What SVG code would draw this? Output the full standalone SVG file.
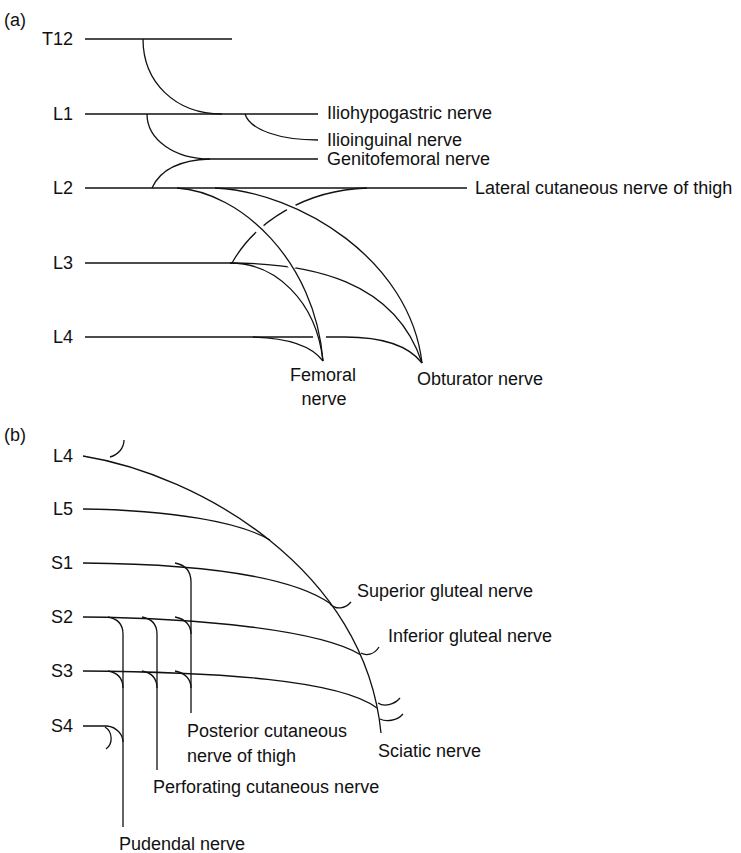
<svg xmlns="http://www.w3.org/2000/svg" width="741" height="853" viewBox="0 0 741 853">
<style>
text{font-family:"Liberation Sans",Arial,sans-serif;font-size:18px;fill:#111}
.e{text-anchor:end}
.m{text-anchor:middle}
path,line{fill:none;stroke:#111;stroke-width:1.3}
.gap{fill:#fff;stroke:none}
</style>
<rect width="741" height="853" fill="#fff"/>
<g id="part-a-label"><text x="4" y="26">(a)</text></g>
<g id="T12"><text class="e" x="73" y="45">T12</text></g>
<g id="L1a"><text class="e" x="73" y="120">L1</text></g>
<g id="L2a"><text class="e" x="73" y="194">L2</text></g>
<g id="L3a"><text class="e" x="73" y="269">L3</text></g>
<g id="L4a"><text class="e" x="73" y="343">L4</text></g>
<g id="iliohypogastric"><text x="327" y="119">Iliohypogastric nerve</text></g>
<g id="ilioinguinal"><text x="327" y="146">Ilioinguinal nerve</text></g>
<g id="genitofemoral"><text x="327" y="165">Genitofemoral nerve</text></g>
<g id="lateral-cutaneous"><text x="475" y="194">Lateral cutaneous nerve of thigh</text></g>
<g id="femoral"><text class="m" x="323" y="381">Femoral</text><text class="m" x="324" y="405">nerve</text></g>
<g id="obturator"><text x="417" y="385">Obturator nerve</text></g>

<g id="part-b-label"><text x="4" y="441">(b)</text></g>
<g id="L4b"><text class="e" x="73" y="462">L4</text></g>
<g id="L5b"><text class="e" x="73" y="515">L5</text></g>
<g id="S1"><text class="e" x="73" y="569">S1</text></g>
<g id="S2"><text class="e" x="73" y="623">S2</text></g>
<g id="S3"><text class="e" x="73" y="677">S3</text></g>
<g id="S4"><text class="e" x="73" y="732">S4</text></g>
<g id="superior-gluteal"><text x="357" y="597">Superior gluteal nerve</text></g>
<g id="inferior-gluteal"><text x="388" y="642">Inferior gluteal nerve</text></g>
<g id="sciatic"><text x="378" y="757">Sciatic nerve</text></g>
<g id="posterior-cutaneous"><text x="187" y="737">Posterior cutaneous</text><text x="187" y="762">nerve of thigh</text></g>
<g id="perforating-cutaneous"><text x="153" y="793">Perforating cutaneous nerve</text></g>
<g id="pudendal"><text x="119" y="850">Pudendal nerve</text></g>

<g id="connectors">
  <!-- part (a) -->
  <path d="M85,39 H232"/>
  <path d="M143,39 C143,82 175,114 222,114"/>
  <path d="M85,114 H318"/>
  <path d="M245,114 C250,130 280,140 318,140"/>
  <path d="M147,114 C147,140 175,159 210,159 H318"/>
  <path d="M152,188 C160,170 180,160 210,159"/>
  <path d="M85,188 H467"/>
  <path d="M85,263 H232"/>
  <!-- under curves -->
  <path d="M232,263 C255,222 305,190 367,188"/>
  <path d="M230,263 C310,263 395,280 422,363"/>
  <path d="M85,337 H313"/>
  <path d="M326,337 H345 C380,337 408,345 422,363"/>
  <path d="M253,337 C290,338 312,346 323,361"/>
  <!-- gaps -->
  <circle class="gap" cx="260" cy="229" r="5"/>
  <circle class="gap" cx="291" cy="207" r="5"/>
  <circle class="gap" cx="292" cy="264" r="5"/>
  <!-- over curves -->
  <path d="M230,263 C275,263 316,300 323,361"/>
  <path d="M177,188 C240,192 315,260 323,361"/>
  <path d="M215,188 C300,192 410,260 422,363"/>

  <!-- part (b) -->
  <path d="M83,456 C200,475 365,570 381,733"/>
  <path d="M110,457 C118,455 124,448 124,440"/>
  <path d="M83,509 C170,510 240,522 270,540"/>
  <path d="M83,563 C200,564 290,575 331,604"/>
  <path d="M83,617 C200,618 320,630 361,655"/>
  <path d="M83,671 C220,672 340,680 377,708"/>
  <path d="M330,604 C336,610 345,609 351,602"/>
  <path d="M361,653 C366,656 374,655 379,647"/>
  <path d="M378,703 C384,707 394,705 400,698"/>
  <path d="M380,719 C386,722 397,721 403,714"/>
  <path d="M175,563 C186,565 191,572 191,582 V713"/>
  <path d="M175,617 C186,619 191,626 191,634"/>
  <path d="M175,671 C186,673 191,680 191,688"/>
  <path d="M142,617 C153,619 157,626 157,634 V770"/>
  <path d="M142,671 C153,673 157,680 157,688"/>
  <path d="M108,617 C119,619 123,626 123,634 V827"/>
  <path d="M108,671 C119,673 123,680 123,688"/>
  <path d="M83,726 H107 C117,727 123,735 123,742"/>
  <path d="M105,727 C113,732 113,744 106,749"/>
</g>
</svg>
